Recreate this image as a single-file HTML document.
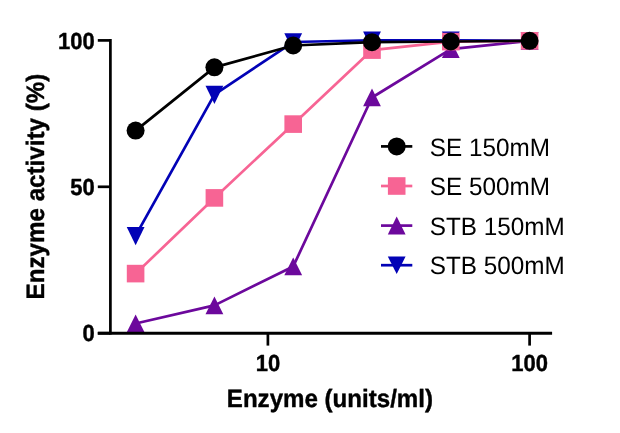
<!DOCTYPE html>
<html><head><meta charset="utf-8"><title>chart</title>
<style>
html,body{margin:0;padding:0;background:#fff;}
body{width:620px;height:433px;overflow:hidden;font-family:"Liberation Sans",sans-serif;}
svg{display:block;will-change:transform;}
text{font-family:"Liberation Sans",sans-serif;fill:#000;text-rendering:geometricPrecision;}
.b{font-weight:bold;stroke:#000;stroke-width:0.4px;stroke-linejoin:round;}
</style></head><body>
<svg width="620" height="433" viewBox="0 0 620 433">
<rect x="0" y="0" width="620" height="433" fill="#ffffff"/>
<polyline points="135.63,235.70 214.42,94.57 293.22,42.01 372.01,40.25 450.81,40.40 529.60,40.69" fill="none" stroke="#0202B6" stroke-width="2.7" stroke-linejoin="round"/>
<polygon points="135.63,245.20 144.53,226.90 126.73,226.90" fill="#0202B6"/>
<polygon points="214.42,104.07 223.32,85.77 205.52,85.77" fill="#0202B6"/>
<polygon points="293.22,51.51 302.12,33.21 284.32,33.21" fill="#0202B6"/>
<polygon points="372.01,49.75 380.91,31.45 363.11,31.45" fill="#0202B6"/>
<polygon points="450.81,49.90 459.71,31.60 441.91,31.60" fill="#0202B6"/>
<polygon points="529.60,50.19 538.50,31.89 520.70,31.89" fill="#0202B6"/>
<polyline points="135.63,323.54 214.42,305.38 293.22,266.44 372.01,97.50 450.81,49.18 529.60,40.84" fill="none" stroke="#6C089C" stroke-width="2.7" stroke-linejoin="round"/>
<polygon points="135.63,314.54 144.53,332.34 126.73,332.34" fill="#6C089C"/>
<polygon points="214.42,296.38 223.32,314.18 205.52,314.18" fill="#6C089C"/>
<polygon points="293.22,257.44 302.12,275.24 284.32,275.24" fill="#6C089C"/>
<polygon points="372.01,88.50 380.91,106.30 363.11,106.30" fill="#6C089C"/>
<polygon points="450.81,40.18 459.71,57.98 441.91,57.98" fill="#6C089C"/>
<polygon points="529.60,31.84 538.50,49.64 520.70,49.64" fill="#6C089C"/>
<polyline points="135.63,273.62 214.42,197.93 293.22,124.14 372.01,50.06 450.81,41.57 529.60,40.84" fill="none" stroke="#F76494" stroke-width="2.7" stroke-linejoin="round"/>
<rect x="126.8" y="264.8" width="17.6" height="17.6" fill="#F76494"/>
<rect x="205.6" y="189.1" width="17.6" height="17.6" fill="#F76494"/>
<rect x="284.4" y="115.3" width="17.6" height="17.6" fill="#F76494"/>
<rect x="363.2" y="41.3" width="17.6" height="17.6" fill="#F76494"/>
<rect x="442.0" y="32.8" width="17.6" height="17.6" fill="#F76494"/>
<rect x="520.8" y="32.0" width="17.6" height="17.6" fill="#F76494"/>
<polyline points="135.63,130.58 214.42,67.34 293.22,45.52 372.01,42.16 450.81,41.48 529.60,40.84" fill="none" stroke="#000000" stroke-width="2.7" stroke-linejoin="round"/>
<circle cx="135.6" cy="130.6" r="9.0" fill="#000000"/>
<circle cx="214.4" cy="67.3" r="9.0" fill="#000000"/>
<circle cx="293.2" cy="45.5" r="9.0" fill="#000000"/>
<circle cx="372.0" cy="42.2" r="9.0" fill="#000000"/>
<circle cx="450.8" cy="41.5" r="9.0" fill="#000000"/>
<circle cx="529.6" cy="40.8" r="9.0" fill="#000000"/>
<line x1="110.4" y1="39.05" x2="110.4" y2="334.55" stroke="#000" stroke-width="2.7"/>
<line x1="97.8" y1="333.3" x2="552.1" y2="333.3" stroke="#000" stroke-width="2.9000000000000004"/>
<line x1="97.8" y1="333.2" x2="110.4" y2="333.2" stroke="#000" stroke-width="2.7"/>
<line x1="97.8" y1="186.8" x2="110.4" y2="186.8" stroke="#000" stroke-width="2.7"/>
<line x1="97.8" y1="40.4" x2="110.4" y2="40.4" stroke="#000" stroke-width="2.7"/>
<line x1="267.9" y1="333.2" x2="267.9" y2="345.6" stroke="#000" stroke-width="2.7"/>
<line x1="529.6" y1="333.2" x2="529.6" y2="345.6" stroke="#000" stroke-width="2.7"/>
<text class="b" transform="translate(94.75,341.40) scale(1,1.06)" font-size="22" text-anchor="end">0</text>
<text class="b" transform="translate(94.75,195.00) scale(1,1.06)" font-size="22" text-anchor="end">50</text>
<text class="b" transform="translate(94.75,48.60) scale(1,1.06)" font-size="22" text-anchor="end">100</text>
<text class="b" transform="translate(267.9,370.7) scale(1,1.06)" font-size="22" text-anchor="middle">10</text>
<text class="b" transform="translate(529.6,370.7) scale(1,1.06)" font-size="22" text-anchor="middle">100</text>
<text class="b" transform="translate(329.9,406.65) scale(1,1.04)" font-size="24.1" text-anchor="middle">Enzyme (units/ml)</text>
<text class="b" transform="translate(44.4,186.6) rotate(-90) scale(1,1.04)" font-size="24.2" text-anchor="middle">Enzyme activity (%)</text>
<line x1="381" y1="146.4" x2="412.3" y2="146.4" stroke="#000000" stroke-width="2.7"/>
<circle cx="396.7" cy="146.4" r="9.0" fill="#000000"/>
<text transform="translate(429.8,155.95) scale(1,1.035)" font-size="24.3">SE 150mM</text>
<line x1="381" y1="186.0" x2="412.3" y2="186.0" stroke="#F76494" stroke-width="2.7"/>
<rect x="387.9" y="177.2" width="17.6" height="17.6" fill="#F76494"/>
<text transform="translate(429.8,195.1) scale(1,1.035)" font-size="24.3">SE 500mM</text>
<line x1="381" y1="225.6" x2="412.3" y2="225.6" stroke="#6C089C" stroke-width="2.7"/>
<polygon points="396.70,216.60 405.60,234.40 387.80,234.40" fill="#6C089C"/>
<text transform="translate(429.8,234.7) scale(1,1.035)" font-size="24.3">STB 150mM</text>
<line x1="381" y1="265.2" x2="412.3" y2="265.2" stroke="#0202B6" stroke-width="2.7"/>
<polygon points="396.70,274.00 405.60,256.40 387.80,256.40" fill="#0202B6"/>
<text transform="translate(429.8,274.2) scale(1,1.035)" font-size="24.3">STB 500mM</text>
</svg></body></html>
